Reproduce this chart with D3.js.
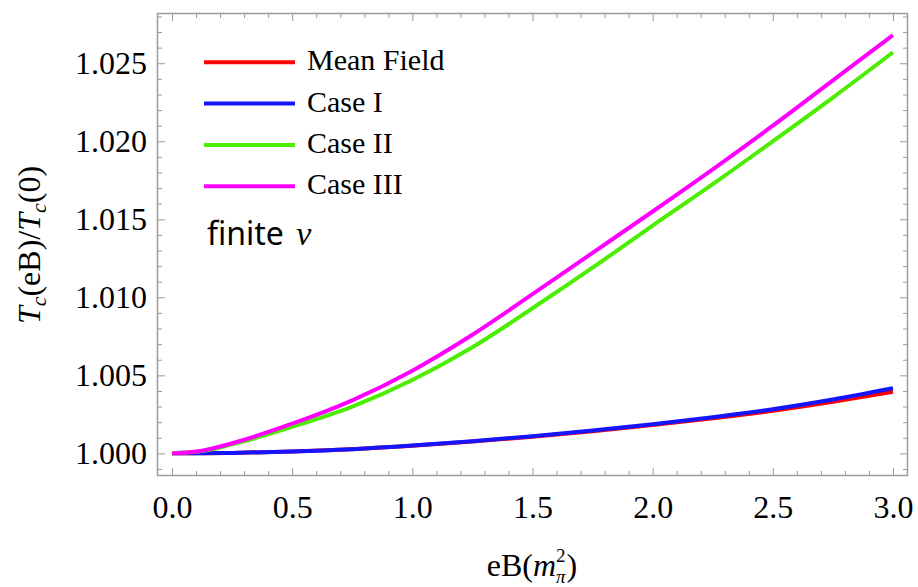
<!DOCTYPE html>
<html>
<head>
<meta charset="utf-8">
<script src="https://cdn.jsdelivr.net/npm/d3@7"></script>
<style>
body { margin: 0; background: #fff; }
</style>
</head>
<body>
<div id="chart"></div>
<script>
// eB in units of m_pi^2
const eB = [0, 0.125, 0.25, 0.5, 0.75, 1.0, 1.25, 1.5, 1.75, 2.0, 2.25, 2.5, 2.75, 3.0]
// Tc(eB)/Tc(0)
const meanField = [1.00000, 1.00001, 1.00003, 1.00012, 1.00027, 1.00049, 1.00076, 1.00107, 1.00142, 1.00181, 1.00225, 1.00273, 1.00331, 1.00395]
const caseI     = [1.00000, 1.00001, 1.00003, 1.00012, 1.00027, 1.00050, 1.00078, 1.00110, 1.00146, 1.00187, 1.00232, 1.00283, 1.00345, 1.00417]
const caseII    = [1.00000, 1.00015, 1.00058, 1.00170, 1.00300, 1.00470, 1.00680, 1.00930, 1.01190, 1.01460, 1.01725, 1.02000, 1.02280, 1.02570]
const caseIII   = [1.00000, 1.00017, 1.00065, 1.00190, 1.00340, 1.00530, 1.00760, 1.01020, 1.01285, 1.01550, 1.01820, 1.02100, 1.02390, 1.02680]

const seriesNames = ["Mean Field", "Case I", "Case II", "Case III"]
const seriesColors = ["#ff0000", "#1414ff", "#4cee00", "#ff00ff"]
const seriesValues = [meanField, caseI, caseII, caseIII]

const xMajor = [0, 0.5, 1.0, 1.5, 2.0, 2.5, 3.0]
const yMajor = [1.000, 1.005, 1.010, 1.015, 1.020, 1.025]

const width = 918, height = 587
const frameL = 157, frameR = 908, frameT = 13, frameB = 476
const frameColor = "#9a9a9a"
const serif = "Liberation Serif, Times New Roman, serif"

const svg = d3.select("#chart")
	.append("svg")
	.attr("width", width)
	.attr("height", height)
	.attr("font-family", serif)

const x = d3.scaleLinear().domain([-0.0625, 3.0625]).range([frameL, frameR])
const y = d3.scaleLinear().domain([0.99855, 1.02822]).range([frameB, frameT])

const xMinor = d3.range(0, 31).map(i => i / 10).filter(v => xMajor.indexOf(v) < 0)
const yMinor = d3.range(-1, 29).map(i => +(1 + i * 0.001).toFixed(3))
	.filter(v => v > y.domain()[0] && v < y.domain()[1])
	.filter(v => yMajor.indexOf(v) < 0)

// ticks on all four sides, pointing inward
function styleAxis(g) {
	g.select(".domain").remove()
	g.attr("font-family", serif).attr("font-size", 32)
	g.selectAll(".tick line").attr("stroke", frameColor).attr("stroke-width", 1)
	g.selectAll(".tick text").attr("fill", "#000")
}

const sides = [
	{ axis: d3.axisBottom, pos: `translate(0,${frameB})`, scale: x, major: xMajor, minor: xMinor, fmt: ".1f", label: true },
	{ axis: d3.axisTop, pos: `translate(0,${frameT})`, scale: x, major: xMajor, minor: xMinor, label: false },
	{ axis: d3.axisLeft, pos: `translate(${frameL},0)`, scale: y, major: yMajor, minor: yMinor, fmt: ".3f", label: true },
	{ axis: d3.axisRight, pos: `translate(${frameR},0)`, scale: y, major: yMajor, minor: yMinor, label: false }
]
sides.forEach(function (s) {
	svg.append("g").attr("transform", s.pos)
		.call(s.axis(s.scale).tickValues(s.minor).tickSize(-5).tickFormat(() => ""))
		.call(styleAxis)
	svg.append("g").attr("transform", s.pos)
		.call(s.axis(s.scale).tickValues(s.major).tickSize(-8)
			.tickPadding(s.axis === d3.axisLeft ? 10 : 19)
			.tickFormat(s.label ? d3.format(s.fmt) : () => ""))
		.call(styleAxis)
})

svg.append("rect")
	.attr("x", frameL + 0.5)
	.attr("y", frameT + 0.5)
	.attr("width", frameR - frameL - 1)
	.attr("height", frameB - frameT - 1)
	.attr("fill", "none")
	.attr("stroke", frameColor)
	.attr("stroke-width", 1.5)

// curves
const line = d3.line()
	.x((d, i) => x(eB[i]))
	.y(d => y(d))
	.curve(d3.curveMonotoneX)

svg.append("g").selectAll("path")
	.data(seriesValues)
	.join("path")
	.attr("d", line)
	.attr("fill", "none")
	.attr("stroke", (d, i) => seriesColors[i])
	.attr("stroke-width", 4)
	.attr("stroke-linecap", "butt")

// legend
const legend = svg.append("g").attr("font-size", 30)
seriesNames.forEach(function (name, i) {
	const ly = 62.3 + i * 41.3
	legend.append("line")
		.attr("x1", 204).attr("x2", 295)
		.attr("y1", ly).attr("y2", ly)
		.attr("stroke", seriesColors[i])
		.attr("stroke-width", 4)
	legend.append("text")
		.attr("x", 307)
		.attr("y", ly + 8)
		.text(name)
})

const fin = svg.append("text")
	.attr("x", 207)
	.attr("y", 245)
	.attr("font-size", 32)
	.attr("font-family", "Noto Sans, sans-serif")
	.text("finite ")
fin.append("tspan")
	.attr("dx", 4)
	.attr("font-style", "italic")
	.attr("font-family", serif)
	.attr("font-size", 34)
	.text("\u03bd")

// axis titles
const xt = svg.append("text")
	.attr("x", 532)
	.attr("y", 576)
	.attr("text-anchor", "middle")
	.attr("font-size", 32)
xt.append("tspan").text("eB(")
xt.append("tspan").attr("font-style", "italic").text("m")
xt.append("tspan").attr("font-size", 19).attr("dy", -14).text("2")
xt.append("tspan").attr("font-size", 19).attr("font-style", "italic").attr("dx", -9.5).attr("dy", 21).text("\u03c0")
xt.append("tspan").attr("dy", -7).attr("dx", 1).text(")")

const yt = svg.append("text")
	.attr("transform", "translate(40,245) rotate(-90)")
	.attr("text-anchor", "middle")
	.attr("font-size", 32)
yt.append("tspan").attr("font-style", "italic").text("T")
yt.append("tspan").attr("font-style", "italic").attr("font-size", 22).attr("dy", 6).text("c")
yt.append("tspan").attr("dy", -6).text("(eB)/")
yt.append("tspan").attr("font-style", "italic").text("T")
yt.append("tspan").attr("font-style", "italic").attr("font-size", 22).attr("dy", 6).text("c")
yt.append("tspan").attr("dy", -6).text("(0)")
</script>
</body>
</html>
